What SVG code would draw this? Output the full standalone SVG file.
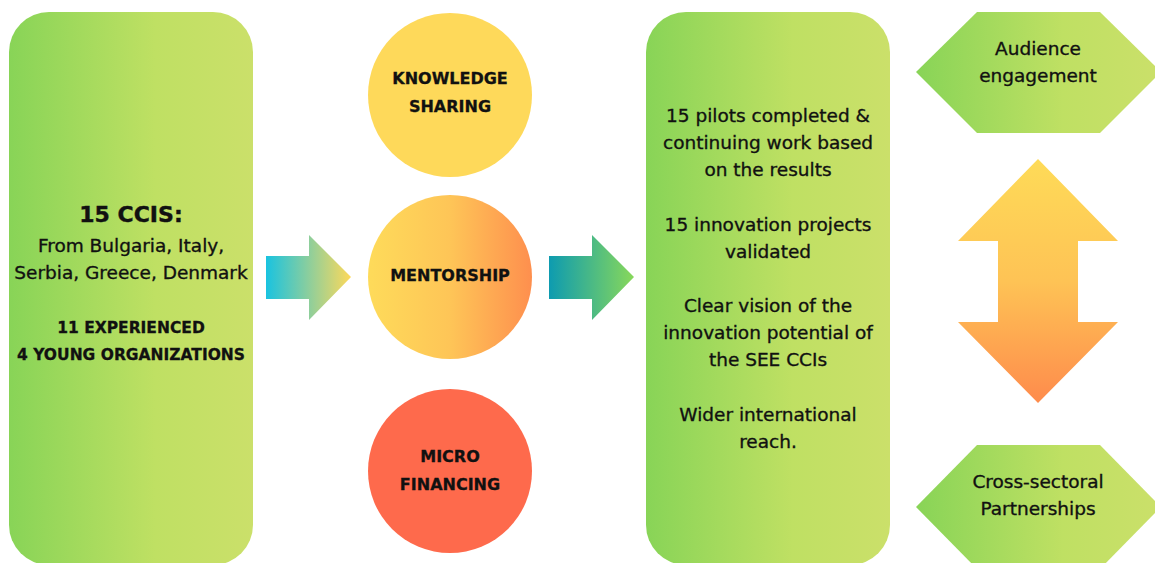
<svg xmlns="http://www.w3.org/2000/svg" width="1155" height="563" viewBox="0 0 1155 563">
<defs>
<linearGradient id="gGreen" x1="0" y1="0" x2="1" y2="0">
<stop offset="0" stop-color="#88d457"/>
<stop offset="0.6" stop-color="#bfe063"/>
<stop offset="1" stop-color="#cbe06a"/>
</linearGradient>
<linearGradient id="gArrow1" x1="0" y1="0" x2="1" y2="0">
<stop offset="0" stop-color="#19c3e0"/>
<stop offset="1" stop-color="#fed95a"/>
</linearGradient>
<linearGradient id="gArrow2" x1="0" y1="0" x2="1" y2="0">
<stop offset="0" stop-color="#0d9bb0"/>
<stop offset="1" stop-color="#88d85a"/>
</linearGradient>
<linearGradient id="gMentor" x1="0" y1="0" x2="1" y2="0">
<stop offset="0" stop-color="#fedb5a"/>
<stop offset="0.5" stop-color="#fec557"/>
<stop offset="1" stop-color="#fe8f4e"/>
</linearGradient>
<linearGradient id="gDouble" x1="0" y1="0" x2="0" y2="1">
<stop offset="0" stop-color="#fedb58"/>
<stop offset="0.5" stop-color="#fec355"/>
<stop offset="1" stop-color="#fe8b4c"/>
</linearGradient>
</defs>
<style>
.body{font-family:"DejaVu Sans","Liberation Sans",sans-serif;font-size:18.5px;fill:#111;stroke:#111;stroke-width:0.35px;text-anchor:middle}
.caps{font-family:"DejaVu Sans",sans-serif;font-weight:bold;font-size:16px;fill:#111;stroke:#111;stroke-width:0.3px;text-anchor:middle}
.small{font-size:15.5px}
.title{font-family:"DejaVu Sans",sans-serif;font-weight:bold;font-size:22px;fill:#111;stroke:#111;stroke-width:0.4px;text-anchor:middle}
</style>
<g id="ccis">
<rect x="9" y="12" width="244" height="553" rx="40" fill="url(#gGreen)"/>
<text class="title" x="131" y="222">15 CCIS:</text>
<text class="body" x="131" y="252">From Bulgaria, Italy,</text>
<text class="body" x="131" y="279">Serbia, Greece, Denmark</text>
<text class="caps small" x="131" y="333">11 EXPERIENCED</text>
<text class="caps small" x="131" y="360">4 YOUNG ORGANIZATIONS</text>
</g>
<g id="knowledge">
<circle cx="450" cy="95" r="82" fill="#fed95a"/>
<text class="caps" x="450" y="84">KNOWLEDGE</text>
<text class="caps" x="450" y="112">SHARING</text>
</g>
<g id="mentorship">
<circle cx="450" cy="277" r="82" fill="url(#gMentor)"/>
<text class="caps" x="450" y="281">MENTORSHIP</text>
</g>
<g id="microfinancing">
<circle cx="450" cy="471" r="82" fill="#fe6a4c"/>
<text class="caps" x="450" y="462">MICRO</text>
<text class="caps" x="450" y="490">FINANCING</text>
</g>
<g id="results">
<rect x="646" y="12" width="244" height="553" rx="40" fill="url(#gGreen)"/>
<text class="body" x="768" y="122">15 pilots completed &amp;</text>
<text class="body" x="768" y="149">continuing work based</text>
<text class="body" x="768" y="176">on the results</text>
<text class="body" x="768" y="231">15 innovation projects</text>
<text class="body" x="768" y="258">validated</text>
<text class="body" x="768" y="312">Clear vision of the</text>
<text class="body" x="768" y="339">innovation potential of</text>
<text class="body" x="768" y="366">the SEE CCIs</text>
<text class="body" x="768" y="421">Wider international</text>
<text class="body" x="768" y="448">reach.</text>
</g>
<g id="audience">
<polygon points="916,72 977,12 1100,12 1161,72 1100,133 977,133" fill="url(#gGreen)"/>
<text class="body" x="1038" y="55">Audience</text>
<text class="body" x="1038" y="82">engagement</text>
</g>
<g id="partnerships">
<polygon points="916,507 977,445 1100,445 1161,507 1100,569 977,569" fill="url(#gGreen)"/>
<text class="body" x="1038" y="488">Cross-sectoral</text>
<text class="body" x="1038" y="515">Partnerships</text>
</g>
<g id="connectors">
<polygon points="266,256 309,256 309,235 351,277 309,320 309,299 266,299" fill="url(#gArrow1)"/>
<polygon points="549,256 592,256 592,235 634,277 592,320 592,299 549,299" fill="url(#gArrow2)"/>
<polygon points="1038,159 1118,241 1078,241 1078,322 1118,322 1038,403 958,322 998,322 998,241 958,241" fill="url(#gDouble)"/>
</g>
</svg>
